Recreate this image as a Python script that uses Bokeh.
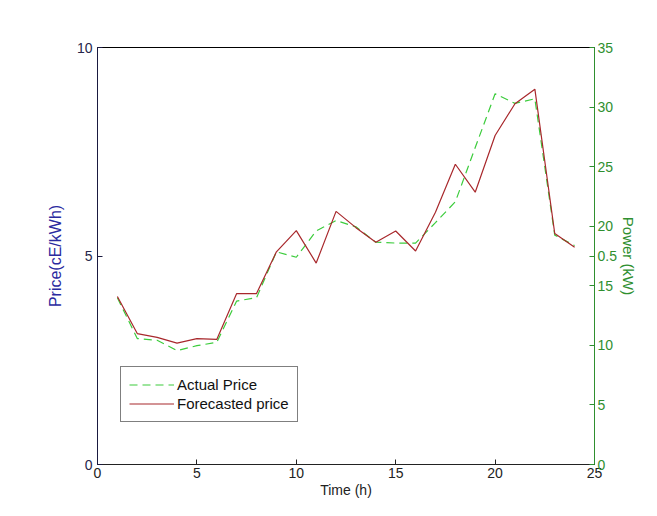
from bokeh.plotting import figure
from bokeh.models import Range1d, LinearAxis, FixedTicker, Label, Legend, LegendItem
from bokeh.embed import file_html
from bokeh.resources import INLINE

hours = list(range(1, 25))
actual_price = [4.0, 3.02, 2.98, 2.73, 2.85, 2.93, 3.92, 4.0, 5.1, 4.97, 5.6, 5.85,
                5.7, 5.33, 5.31, 5.31, 5.8, 6.3, 7.6, 8.89, 8.66, 8.77, 5.5, 5.25]
forecast_price = [4.03, 3.14, 3.05, 2.91, 3.02, 3.0, 4.1, 4.1, 5.1, 5.61, 4.83, 6.07,
                  5.68, 5.33, 5.6, 5.12, 6.05, 7.2, 6.53, 7.89, 8.65, 9.0, 5.54, 5.21]
x_ticks = [0, 5, 10, 15, 20, 25]
price_ticks = [0, 5, 10]
power_ticks = [0, 5, 10, 15, 17.5, 20, 25, 30, 35]
power_overrides = {17.5: "0.5"}
x_label = "Time (h)"

FONT = "Liberation Sans"
BLUE = "#2a2aa0"
GREEN = "#2f8f2f"
RED = "#a8282c"
LGREEN = "#3ccc3c"

p = figure(width=641, height=500, output_backend="svg", toolbar_location=None,
           x_range=Range1d(0, 25), y_range=Range1d(0, 10),
           min_border_left=97, min_border_right=47, min_border_top=47, min_border_bottom=36)
p.extra_y_ranges = {"power": Range1d(0, 35)}
p.xgrid.visible = False
p.ygrid.visible = False
p.outline_line_color = "black"
p.background_fill_color = "white"
p.border_fill_color = "white"

la = p.line(hours, actual_price, line_color=LGREEN, line_width=1.2, line_dash="8 5")
lf = p.line(hours, forecast_price, line_color=RED, line_width=1.2)

xa = p.xaxis[0]
xa.ticker = FixedTicker(ticks=x_ticks)
xa.axis_label = x_label
xa.major_tick_in = 5
xa.major_tick_out = 0
xa.minor_tick_line_color = None
xa.axis_line_color = "#222222"
xa.major_tick_line_color = "#222222"
xa.major_label_text_font = FONT
xa.major_label_text_font_size = "14px"
xa.major_label_text_color = "#222222"
xa.major_label_standoff = 3
xa.axis_label_text_font = FONT
xa.axis_label_text_font_size = "14px"
xa.axis_label_text_font_style = "normal"
xa.axis_label_text_color = "#222222"
xa.axis_label_standoff = 1

ya = p.yaxis[0]
ya.ticker = FixedTicker(ticks=price_ticks)
ya.axis_label = "Price(cE/kWh)"
ya.major_tick_in = 5
ya.major_tick_out = 0
ya.minor_tick_line_color = None
ya.axis_line_color = "#1a1a40"
ya.major_tick_line_color = "#1a1a40"
ya.major_label_text_font = FONT
ya.major_label_text_font_size = "14px"
ya.major_label_text_color = "#26264a"
ya.major_label_standoff = 5
ya.axis_label_text_font = FONT
ya.axis_label_text_font_size = "16px"
ya.axis_label_text_font_style = "normal"
ya.axis_label_text_color = BLUE
ya.axis_label_standoff = 10

ra = LinearAxis(y_range_name="power", ticker=FixedTicker(ticks=power_ticks),
                major_label_overrides=power_overrides, axis_label="Power (kW)")
ra.major_tick_in = 5
ra.major_tick_out = 0
ra.minor_tick_line_color = None
ra.axis_line_color = GREEN
ra.major_tick_line_color = GREEN
ra.major_label_text_font = FONT
ra.major_label_text_font_size = "14px"
ra.major_label_text_color = GREEN
ra.major_label_standoff = 3
ra.axis_label_text_font = FONT
ra.axis_label_text_font_size = "15px"
ra.axis_label_text_font_style = "normal"
ra.axis_label_text_color = GREEN
ra.axis_label_standoff = 0
p.add_layout(ra, "right")

p.add_layout(Label(x=25, y=35, y_range_name="power", x_offset=3, text="1",
                   text_baseline="middle", text_align="left", text_color=GREEN,
                   text_font=FONT, text_font_size="14px"))

legend = Legend(items=[LegendItem(label="Actual Price", renderers=[la]),
                       LegendItem(label="Forecasted price", renderers=[lf])],
                location=(23, 42))
legend.border_line_color = "black"
legend.border_line_width = 1
legend.background_fill_alpha = 1
legend.padding = 8
legend.spacing = 0
legend.margin = 0
legend.glyph_width = 45
legend.glyph_height = 19
legend.label_height = 19
legend.label_standoff = 3
legend.label_text_font = FONT
legend.label_text_font_size = "15px"
legend.label_text_color = "#111111"
p.add_layout(legend, "center")

open("out.html", "w").write(file_html(p, INLINE))
